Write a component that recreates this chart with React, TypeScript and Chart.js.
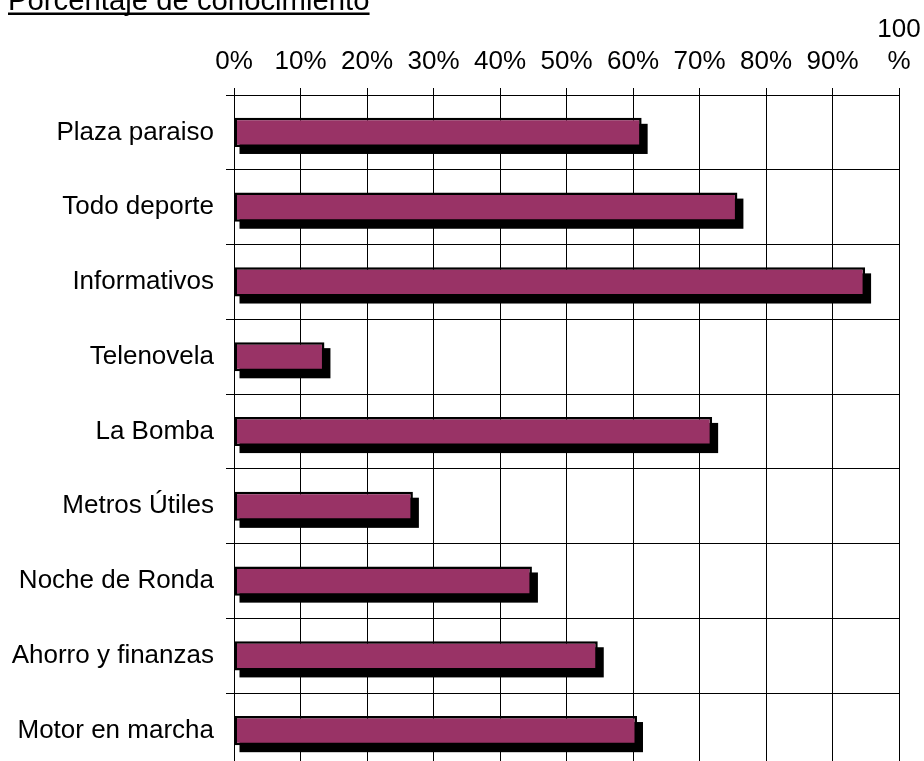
import React, { useEffect, useRef } from "react";
import { Chart, registerables } from "chart.js";

Chart.register(...registerables);

const title = "Porcentaje de conocimiento";
const categories = [
  "Plaza paraiso",
  "Todo deporte",
  "Informativos",
  "Telenovela",
  "La Bomba",
  "Metros Útiles",
  "Noche de Ronda",
  "Ahorro y finanzas",
  "Motor en marcha",
];
const values = [61.3, 75.7, 94.9, 13.6, 71.9, 26.9, 44.8, 54.7, 60.6];
const tickMin = 0;
const tickMax = 100;
const tickStep = 10;

const FONT = '"Liberation Sans", Arial, Helvetica, sans-serif';
const BAR_COLOR = "#993366";

const shadowPlugin = {
  id: "barShadow",
  beforeDatasetsDraw(chart: any) {
    const meta = chart.getDatasetMeta(0);
    const ctx = chart.ctx;
    ctx.save();
    ctx.fillStyle = "#000";
    meta.data.forEach((bar: any) => {
      const { x, y, base, height } = bar.getProps(["x", "y", "base", "height"], true);
      ctx.fillRect(base + 5, y - height / 2 + 6, x - base + 1, height + 1);
    });
    ctx.restore();
  },
};

const titlePlugin = {
  id: "underlinedTitle",
  afterDraw(chart: any) {
    const ctx = chart.ctx;
    ctx.save();
    ctx.font = `29.3px ${FONT}`;
    ctx.fillStyle = "#000";
    ctx.textBaseline = "alphabetic";
    ctx.textAlign = "left";
    ctx.fillText(title, 8, 9.5);
    const w = ctx.measureText(title).width;
    ctx.fillRect(8, 12.5, w, 2.5);
    ctx.restore();
  },
};

export default function App() {
  const ref = useRef<HTMLCanvasElement | null>(null);

  useEffect(() => {
    if (!ref.current) return;
    const chart = new Chart(ref.current, {
      type: "bar",
      data: {
        labels: categories,
        datasets: [
          {
            data: values,
            backgroundColor: BAR_COLOR,
            borderColor: "#000",
            borderWidth: 2.5,
            borderSkipped: false,
            barPercentage: 0.39,
            categoryPercentage: 1,
          },
        ],
      },
      options: {
        animation: false,
        responsive: false,
        maintainAspectRatio: false,
        indexAxis: "y",
        layout: { padding: { left: 0, top: 0, right: 25, bottom: 32 } },
        plugins: {
          legend: { display: false },
          tooltip: { enabled: false },
          title: { display: false },
        },
        scales: {
          x: {
            position: "top",
            min: tickMin,
            max: tickMax,
            ticks: {
              stepSize: tickStep,
              autoSkip: false,
              maxRotation: 0,
              color: "#000",
              padding: 11,
              font: { family: FONT, size: 26 },
              callback: (v: any) => (Number(v) === 100 ? ["100", "%"] : `${v}%`),
            },
            grid: { color: "#000", lineWidth: 1, tickLength: 7, drawTicks: true },
            border: { color: "#000", width: 1 },
            afterFit: (s: any) => {
              s.height = 95;
              s.paddingLeft = 0;
              s.paddingRight = 0;
            },
          },
          y: {
            ticks: {
              autoSkip: false,
              color: "#000",
              padding: 12,
              font: { family: FONT, size: 26 },
            },
            grid: { offset: true, color: "#000", lineWidth: 1, tickLength: 8 },
            border: { color: "#000", width: 1 },
            afterFit: (s: any) => {
              s.width = 234;
              s.paddingTop = 0;
              s.paddingBottom = 0;
            },
          },
        },
      } as any,
      plugins: [shadowPlugin, titlePlugin],
    });
    return () => chart.destroy();
  }, []);

  return (
    <div
      style={{
        position: "fixed",
        left: 0,
        top: 0,
        width: 924,
        height: 761,
        overflow: "hidden",
        background: "#fff",
      }}
    >
      <canvas ref={ref} width={924} height={800} style={{ width: 924, height: 800, display: "block" }} />
    </div>
  );
}
